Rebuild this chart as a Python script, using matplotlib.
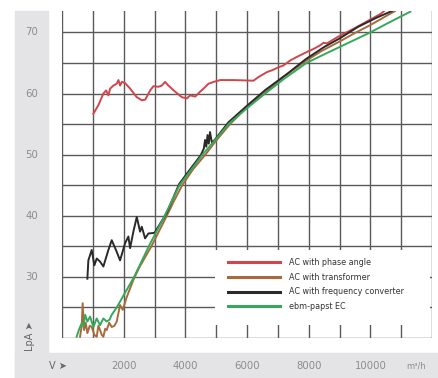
import matplotlib
matplotlib.use("Agg")
import matplotlib.pyplot as plt
from matplotlib.patches import Rectangle
from matplotlib.transforms import blended_transform_factory
import numpy as np

# air flow in m³/h vs. sound pressure level LpA in dB(A)
phase_x = [1018, 1180, 1342, 1430, 1505, 1560, 1667, 1775, 1830, 1885, 1940, 2045,
           2210, 2425, 2590, 2700, 2860, 2965, 3130, 3235, 3345, 3450, 3670, 3885,
           4050, 4155, 4320, 4480, 4590, 4750, 4915, 5130, 5560, 6210, 6375, 6645,
           6810, 7025, 7185, 7400, 7620, 7945, 8160, 8375, 8485, 8590, 9025, 9460,
           9890, 10325, 10450]
phase_y = [56.7, 58.1, 60.0, 60.5, 59.7, 60.8, 61.3, 61.6, 62.2, 61.3, 61.9, 61.7,
           60.8, 59.4, 58.9, 59.0, 60.5, 61.2, 61.1, 61.3, 61.9, 61.3, 60.3, 59.4,
           59.2, 59.7, 59.5, 60.3, 60.8, 61.6, 61.9, 62.2, 62.2, 62.1, 62.7, 63.5,
           63.8, 64.3, 64.6, 65.4, 66.0, 66.8, 67.3, 67.9, 68.3, 68.2, 69.5, 70.6,
           71.8, 73.0, 73.5]

trafo_x = [585, 640, 670, 715, 770, 823, 900, 966, 1050, 1126, 1180, 1234, 1290,
           1342, 1400, 1450, 1530, 1613, 1700, 1775, 1883, 1970, 2100, 2315, 2500,
           2900, 3400, 3650, 3900, 4250, 4650, 5000, 5450, 6000, 6600, 7200, 7900,
           8400, 9000, 9500, 10000, 10800]
trafo_y = [20.2, 22.0, 25.7, 21.3, 22.5, 20.8, 22.0, 21.8, 20.5, 20.2, 22.0, 21.3,
           20.5, 20.2, 21.5, 21.3, 22.5, 21.8, 22.0, 22.7, 25.4, 24.6, 26.7, 29.5,
           31.5, 35.0, 40.0, 42.6, 45.0, 47.6, 50.0, 52.3, 55.0, 57.8, 60.2, 62.8,
           65.3, 66.9, 68.5, 69.9, 71.2, 73.5]

fc_x = [823, 855, 963, 1050, 1126, 1234, 1342, 1504, 1613, 1775, 1883, 2045, 2153,
        2208, 2315, 2425, 2532, 2587, 2695, 2802, 3000, 3400, 3800, 4200, 4500,
        4600, 4640, 4680, 4720, 4760, 4800, 4860, 4950, 5400, 6000, 6600, 7300,
        7900, 8500, 9000, 9600, 10200, 10700]
fc_y = [29.7, 32.7, 34.4, 31.9, 33.0, 32.5, 31.7, 34.4, 36.0, 34.1, 32.7, 35.5, 36.6,
        34.7, 37.4, 39.8, 37.4, 38.2, 36.3, 37.1, 37.2, 40.5, 45.2, 47.9, 49.9,
        51.0, 52.4, 51.3, 53.2, 51.8, 53.7, 52.0, 52.4, 55.3, 58.0, 60.6, 63.2,
        65.6, 67.6, 69.0, 70.9, 72.4, 73.5]

ec_x = [475, 560, 640, 700, 750, 823, 910, 1017, 1126, 1234, 1342, 1450, 1540, 1613,
        1775, 2000, 2340, 2815, 3330, 3810, 4200, 4555, 5000, 5400, 6000, 6590,
        7200, 7930, 8500, 9000, 9500, 10000, 10600, 11300]
ec_y = [20.2, 21.5, 22.4, 22.0, 23.8, 22.7, 23.5, 21.8, 23.2, 22.1, 23.2, 22.7, 23.0,
        23.8, 25.0, 27.0, 30.0, 35.0, 40.0, 45.0, 47.6, 50.0, 52.6, 55.0, 57.6, 60.0,
        62.4, 65.0, 66.4, 67.6, 68.8, 70.0, 71.6, 73.4]

series = [
    ("AC with phase angle", phase_x, phase_y, "#d2454c"),
    ("AC with transformer", trafo_x, trafo_y, "#a86a3c"),
    ("AC with frequency converter", fc_x, fc_y, "#2a2a2a"),
    ("ebm-papst EC", ec_x, ec_y, "#35a85a"),
]

x_labels = [2000, 4000, 6000, 8000, 10000]
y_labels = [30, 40, 50, 60, 70]

fig = plt.figure(figsize=(4.38, 3.78), dpi=100)
band = "#e4e4e6"
fig.patches.append(Rectangle((15 / 438, 0), 33 / 438, 367 / 378, transform=fig.transFigure,
                             color=band, zorder=-5))
fig.patches.append(Rectangle((15 / 438, 0), 423 / 438, 25 / 378, transform=fig.transFigure,
                             color=band, zorder=-5))

ax = fig.add_axes([62 / 438, 40 / 378, 370 / 438, 327 / 378])
ax.set_xlim(0, 12000)
ax.set_ylim(20, 73.5)
ax.set_xticks(np.arange(0, 12001, 1000))
ax.set_yticks(np.arange(20, 71, 5))
ax.grid(True, color="#5a5a5a", lw=1.0)
ax.tick_params(length=0, labelbottom=False, labelleft=False)
for s in ax.spines.values():
    s.set_visible(False)

lines = []
for name, xs, ys, col in series:
    ln, = ax.plot(xs, ys, color=col, lw=1.4, label=name, zorder=3)
    lines.append(ln)

# white panel behind the legend
ax.add_patch(Rectangle((0.414, 0.04), 0.58, 0.229, transform=ax.transAxes,
                       facecolor="white", edgecolor="none", zorder=2))
leg = ax.legend(handles=lines, loc="upper left", bbox_to_anchor=(0.449, 0.245),
                frameon=False, fontsize=5.8, handlelength=6.5, handletextpad=1.0,
                labelspacing=0.72, borderpad=0, borderaxespad=0)
for h in leg.legend_handles:
    h.set_linewidth(2.2)
for t in leg.get_texts():
    t.set_color("#333333")

tick_col = "#8c8c8c"
xt = blended_transform_factory(ax.transData, fig.transFigure)
for v in x_labels:
    fig.text(v, 1 - 366 / 378, str(v), transform=xt, ha="center", va="center",
             fontsize=7.3, color=tick_col)
fig.text(11500, 1 - 366 / 378, "m³/h", transform=xt, ha="center", va="center",
         fontsize=6, color=tick_col)
yt = blended_transform_factory(fig.transFigure, ax.transData)
for v in y_labels:
    fig.text(32 / 438, v, str(v), transform=yt, ha="center", va="center",
             fontsize=7.3, color=tick_col)

fig.text(58 / 438, 1 - 366 / 378, "V ➤", ha="center", va="center", fontsize=7,
         color="#666666")
fig.text(30 / 438, 1 - 336 / 378, "LpA ➤", ha="center", va="center", fontsize=7,
         color="#666666", rotation=90)

fig.savefig("out.png", dpi=100)
